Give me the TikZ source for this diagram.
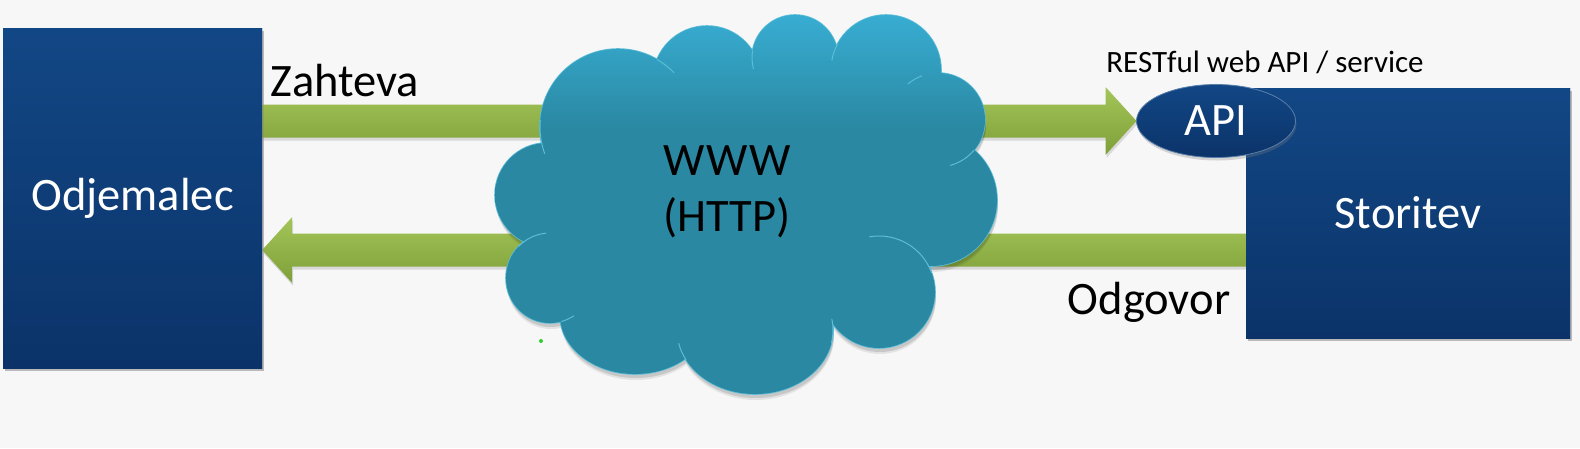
\documentclass[tikz,border=0pt]{standalone}
\usepackage{fontspec}
\setmainfont{Carlito}
\usetikzlibrary{shadows,calc,shapes.geometric}
\definecolor{bg}{HTML}{F7F7F7}
\definecolor{boxtop}{HTML}{124785}
\definecolor{boxbot}{HTML}{0B3369}
\definecolor{cloudtop}{HTML}{38ADD2}
\definecolor{cloudmid}{HTML}{2A88A2}
\definecolor{cloudline}{HTML}{5BBDD8}
\definecolor{greentop}{HTML}{A3C558}
\definecolor{greenbot}{HTML}{7F9F39}
\definecolor{dotgreen}{HTML}{33CC33}
\pgfdeclareverticalshading{cloudshade}{100bp}{color(0bp)=(cloudmid); color(60bp)=(cloudmid); color(75bp)=(cloudtop); color(100bp)=(cloudtop)}
\begin{document}
\begin{tikzpicture}[x=1pt,y=-1pt,
  bigtext/.style={font=\fontsize{46.5}{56}\selectfont},
  bluebox/.style={rectangle, draw=none, top color=boxtop, bottom color=boxbot,
    drop shadow={shadow xshift=2pt,shadow yshift=-3pt,opacity=0.3},
    text=white, bigtext, inner sep=0pt},
  apinode/.style={ellipse, draw=boxtop!70!white, line width=0.8pt, top color=boxtop, bottom color=boxbot,
    drop shadow={shadow xshift=1pt,shadow yshift=-3pt,opacity=0.3},
    text=white, bigtext, inner sep=0pt},
  greenarrow/.style={top color=greentop, bottom color=greenbot, draw=none,
    drop shadow={shadow xshift=1pt,shadow yshift=-3pt,opacity=0.25}},
  label/.style={text=black, bigtext, inner sep=0pt},
  cloudpath/.style={insert path={
    (618,127) circle[radius=78]
    (707,80) circle[radius=54]
    (795,58) circle[radius=43]
    (886,70) circle[radius=55]
    (938,120) circle[radius=47]
    (931,200) circle[radius=66]
    (879,292) circle[radius=56]
    (755,330) ellipse[x radius=78, y radius=64]
    (635,315) ellipse[x radius=75, y radius=59]
    (550,278) ellipse[x radius=44, y radius=45]
    (547,195) circle[radius=52]
    (840,95) circle[radius=35]
    (745,205) ellipse[x radius=185, y radius=125]}},
  innerline/.style={draw=cloudline, line width=1pt}
]
\fill[bg] (0,0) rectangle (1580,448);
\useasboundingbox (0,0) rectangle (1580,448);

% boxes and API (positions)
\node[bluebox, minimum width=259pt, minimum height=340pt] (odj) at (132.5,198) {Odjemalec};
\node[bluebox, minimum width=324pt, minimum height=250pt] (sto) at (1408,213) {Storitev};
\coordinate (apic) at (1216,121);

% arrows (drawn under cloud and boxes)
\coordinate (apiw) at ($(apic)+(-79.5,0)$);
\path[greenarrow] ($(odj.east |- apiw)+(0,-16.5)$) -- ($(apiw)+(-31,-16.5)$) -- ($(apiw)+(-31,-34)$) -- (apiw)
   -- ($(apiw)+(-31,34)$) -- ($(apiw)+(-31,16.5)$) -- ($(odj.east |- apiw)+(0,16.5)$) -- cycle;
\coordinate (r1) at ($(sto.west)+(0,37)$);
\coordinate (r2) at (odj.east |- r1);
\path[greenarrow] ($(r1)+(0,-16.5)$) -- ($(r2)+(30,-16.5)$) -- ($(r2)+(30,-33)$) -- (r2)
   -- ($(r2)+(30,33)$) -- ($(r2)+(30,16.5)$) -- ($(r1)+(0,16.5)$) -- cycle;

% redraw boxes on top of arrows
\node[bluebox, minimum width=259pt, minimum height=340pt] at (odj) {Odjemalec};
\node[bluebox, minimum width=324pt, minimum height=250pt] at (sto) {Storitev};
\node[apinode, minimum width=159pt, minimum height=73pt] (api) at (apic) {API};

% cloud shadow (soft)
\begin{scope}[shift={(1,6)}]
\path[fill=black, fill opacity=0.08, cloudpath];
\end{scope}
\begin{scope}[shift={(1,4)}]
\path[fill=black, fill opacity=0.12, cloudpath];
\end{scope}
% cloud
\path[draw=cloudline, line width=1.6pt, cloudpath];
\fill[cloudmid] (618,127) -- (707,80) -- (795,58) -- (886,70) -- (938,120) -- (931,200) -- (879,292)
  -- (755,330) -- (635,315) -- (550,278) -- (547,195) -- cycle;
\path[shading=cloudshade, cloudpath];
% inner lines of the cloud
\draw[innerline] ($(618,127)+(160:78)$) arc[start angle=160, end angle=185, radius=78];
\draw[innerline] ($(618,127)+(-60:78)$) arc[start angle=-60, end angle=-44, radius=78];
\draw[innerline] ($(795,58)+(165:43)$) arc[start angle=165, end angle=190, radius=43];
\draw[innerline] ($(886,70)+(-170:55)$) arc[start angle=-170, end angle=-152, radius=55];
\draw[innerline] ($(938,120)+(-130:47)$) arc[start angle=-130, end angle=-110, radius=47];
\draw[innerline] ($(938,120)+(40:47)$) arc[start angle=40, end angle=75, radius=47];
\draw[innerline] ($(879,292)+(-100:56)$) arc[start angle=-100, end angle=-20, radius=56];
\draw[innerline] (755,330) ++(-10:78 and 64) arc[start angle=-10, end angle=12, x radius=78, y radius=64];
\draw[innerline] (755,330) ++(152:78 and 64) arc[start angle=152, end angle=168, x radius=78, y radius=64];
\draw[innerline] (550,278) ++(57:44 and 45) arc[start angle=57, end angle=75, x radius=44, y radius=45];
\draw[innerline] (550,278) ++(-135:44 and 45) arc[start angle=-135, end angle=-95, x radius=44, y radius=45];
\node[label, align=center] (www) at (727,192)
  {\setbox0\hbox{(HTTP)}\makebox[\wd0][s]{W\hfill W\hfill W}\\(HTTP)};

% labels
\node[label] (zah) at (345,81) {Zahteva};
\node[label] (odg) at (1149,302) {Odgovor};
\node[text=black, font=\fontsize{31}{37}\selectfont, inner sep=0pt] (rest) at (1265,62) {RESTful web API / service};

% stray dot
\fill[dotgreen] (541,341) circle[radius=2];
\end{tikzpicture}
\end{document}
